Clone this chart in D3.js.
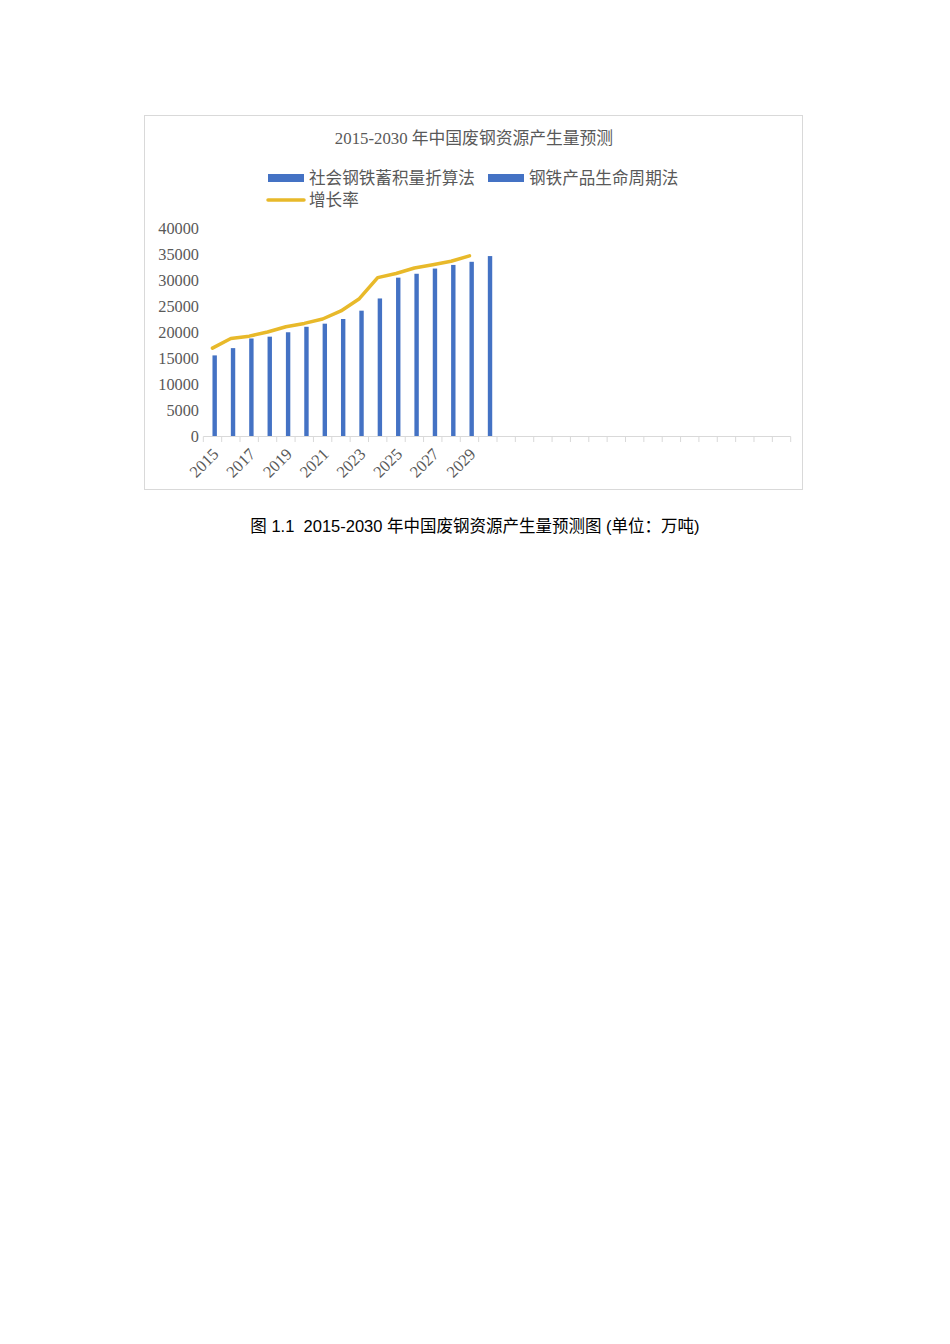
<!DOCTYPE html>
<html>
<head>
<meta charset="utf-8">
<script src="https://cdn.jsdelivr.net/npm/d3@7/dist/d3.min.js"></script>
<style>
  html, body { margin: 0; padding: 0; background: #fff; }
  svg { display: block; }
</style>
</head>
<body>
<svg id="chart" width="950" height="1344"></svg>
<script>
// ---- data ----
const categories = ["2015","2016","2017","2018","2019","2020","2021","2022","2023","2024","2025","2026","2027","2028","2029","2030",
                    "","","","","","","","","","","","","","","",""];
const seriesNames = ["社会钢铁蓄积量折算法", "钢铁产品生命周期法", "增长率"];
const series1Values = []; // no visible bars in the reference
const series2Values = [15500,16900,18750,19100,19950,21000,21600,22500,24100,26450,30450,31200,32200,32900,33500,34600];
const lineValues = [16900,18750,19200,20000,21000,21650,22500,24050,26400,30450,31250,32300,32950,33600,34650];
const yTicks = [0,5000,10000,15000,20000,25000,30000,35000,40000];
const titleText = "2015-2030 年中国废钢资源产生量预测";
const captionText = "图 1.1  2015-2030 年中国废钢资源产生量预测图 (单位：万吨)";

// ---- layout ----
const svg = d3.select("#chart");
const serif = "'Liberation Serif', 'Noto Sans CJK SC', serif";
const barColor = "#4472C4";
const lineColor = "#E8B92A";
const textGray = "#595959";

svg.append("rect").attr("width", 950).attr("height", 1344).attr("fill", "#fff");
// chart frame
svg.append("rect").attr("x", 144.5).attr("y", 115.5).attr("width", 658).attr("height", 374)
  .attr("fill", "#fff").attr("stroke", "#d9d9d9").attr("stroke-width", 1);

// title
svg.append("text").attr("x", 474).attr("y", 144).attr("text-anchor", "middle")
  .attr("font-family", serif).attr("font-size", 16.8).attr("fill", textGray).text(titleText);

// scales
const x = d3.scaleBand().domain(d3.range(categories.length)).range([203.3, 790.7]).padding(0);
const bw = x.bandwidth();
const barW = 4.4;
const xInner = d3.scaleBand().domain([0, 1]).range([bw / 2 - barW, bw / 2 + barW]).padding(0);
const y = d3.scaleLinear().domain([0, 40000]).range([436, 228]);

// y axis labels
svg.append("g").selectAll("text").data(yTicks).join("text")
  .attr("x", 199).attr("y", d => y(d)).attr("dy", "0.35em").attr("text-anchor", "end")
  .attr("font-family", serif).attr("font-size", 16.3).attr("fill", textGray)
  .text(d => d);

// x axis line + ticks
const axis = svg.append("g").attr("stroke", "#d9d9d9").attr("stroke-width", 1);
axis.append("line").attr("x1", x.range()[0]).attr("x2", x.range()[1]).attr("y1", 436.5).attr("y2", 436.5);
axis.selectAll("line.tk").data(d3.range(categories.length + 1)).join("line").attr("class", "tk")
  .attr("x1", i => (i < categories.length ? x(i) : x.range()[1]))
  .attr("x2", i => (i < categories.length ? x(i) : x.range()[1]))
  .attr("y1", 436.5).attr("y2", 442);

// bars: series 1 (empty) and series 2
const barData = [];
series1Values.forEach((v, i) => barData.push({ c: i, s: 0, v }));
series2Values.forEach((v, i) => barData.push({ c: i, s: 1, v }));
svg.append("g").selectAll("rect").data(barData).join("rect")
  .attr("x", d => x(d.c) + xInner(d.s))
  .attr("width", xInner.bandwidth())
  .attr("y", d => y(d.v))
  .attr("height", d => y(0) - y(d.v))
  .attr("fill", barColor);

// line
const line = d3.line().x((d, i) => x(i) + bw / 2).y(d => y(d));
svg.append("path").datum(lineValues).attr("d", line)
  .attr("fill", "none").attr("stroke", lineColor).attr("stroke-width", 3.5)
  .attr("stroke-linejoin", "round").attr("stroke-linecap", "round");

// x labels (every other)
svg.append("g").selectAll("text")
  .data(categories.map((c, i) => ({ c, i })).filter(d => d.c !== "" && d.i % 2 === 0))
  .join("text")
  .attr("transform", d => `translate(${x(d.i) + bw / 2 - 1},${447}) rotate(-45)`)
  .attr("text-anchor", "end").attr("dy", "0.7em")
  .attr("font-family", serif).attr("font-size", 16.5).attr("fill", textGray)
  .text(d => d.c);

// legend
const lg = svg.append("g");
const legendItems = [
  { name: seriesNames[0], type: "bar", x: 268, y: 178 },
  { name: seriesNames[1], type: "bar", x: 488, y: 178 },
  { name: seriesNames[2], type: "line", x: 268, y: 200 }
];
legendItems.forEach(it => {
  if (it.type === "bar") {
    lg.append("rect").attr("x", it.x).attr("y", it.y - 4).attr("width", 36).attr("height", 8).attr("fill", barColor);
  } else {
    lg.append("line").attr("x1", it.x).attr("x2", it.x + 36).attr("y1", it.y).attr("y2", it.y)
      .attr("stroke", lineColor).attr("stroke-width", 3.5).attr("stroke-linecap", "round");
  }
  lg.append("text").attr("x", it.x + 41).attr("y", it.y).attr("dy", "0.36em")
    .attr("font-family", serif).attr("font-size", 16.6).attr("fill", textGray).text(it.name);
});

// caption
svg.append("text").attr("x", 475).attr("y", 532).attr("text-anchor", "middle")
  .attr("xml:space", "preserve").style("white-space", "pre")
  .attr("font-family", "'Liberation Sans Narrow', 'Liberation Sans', 'Noto Sans CJK SC', sans-serif")
  .attr("font-size", 16.5).attr("fill", "#000").text(captionText);
</script>
</body>
</html>
